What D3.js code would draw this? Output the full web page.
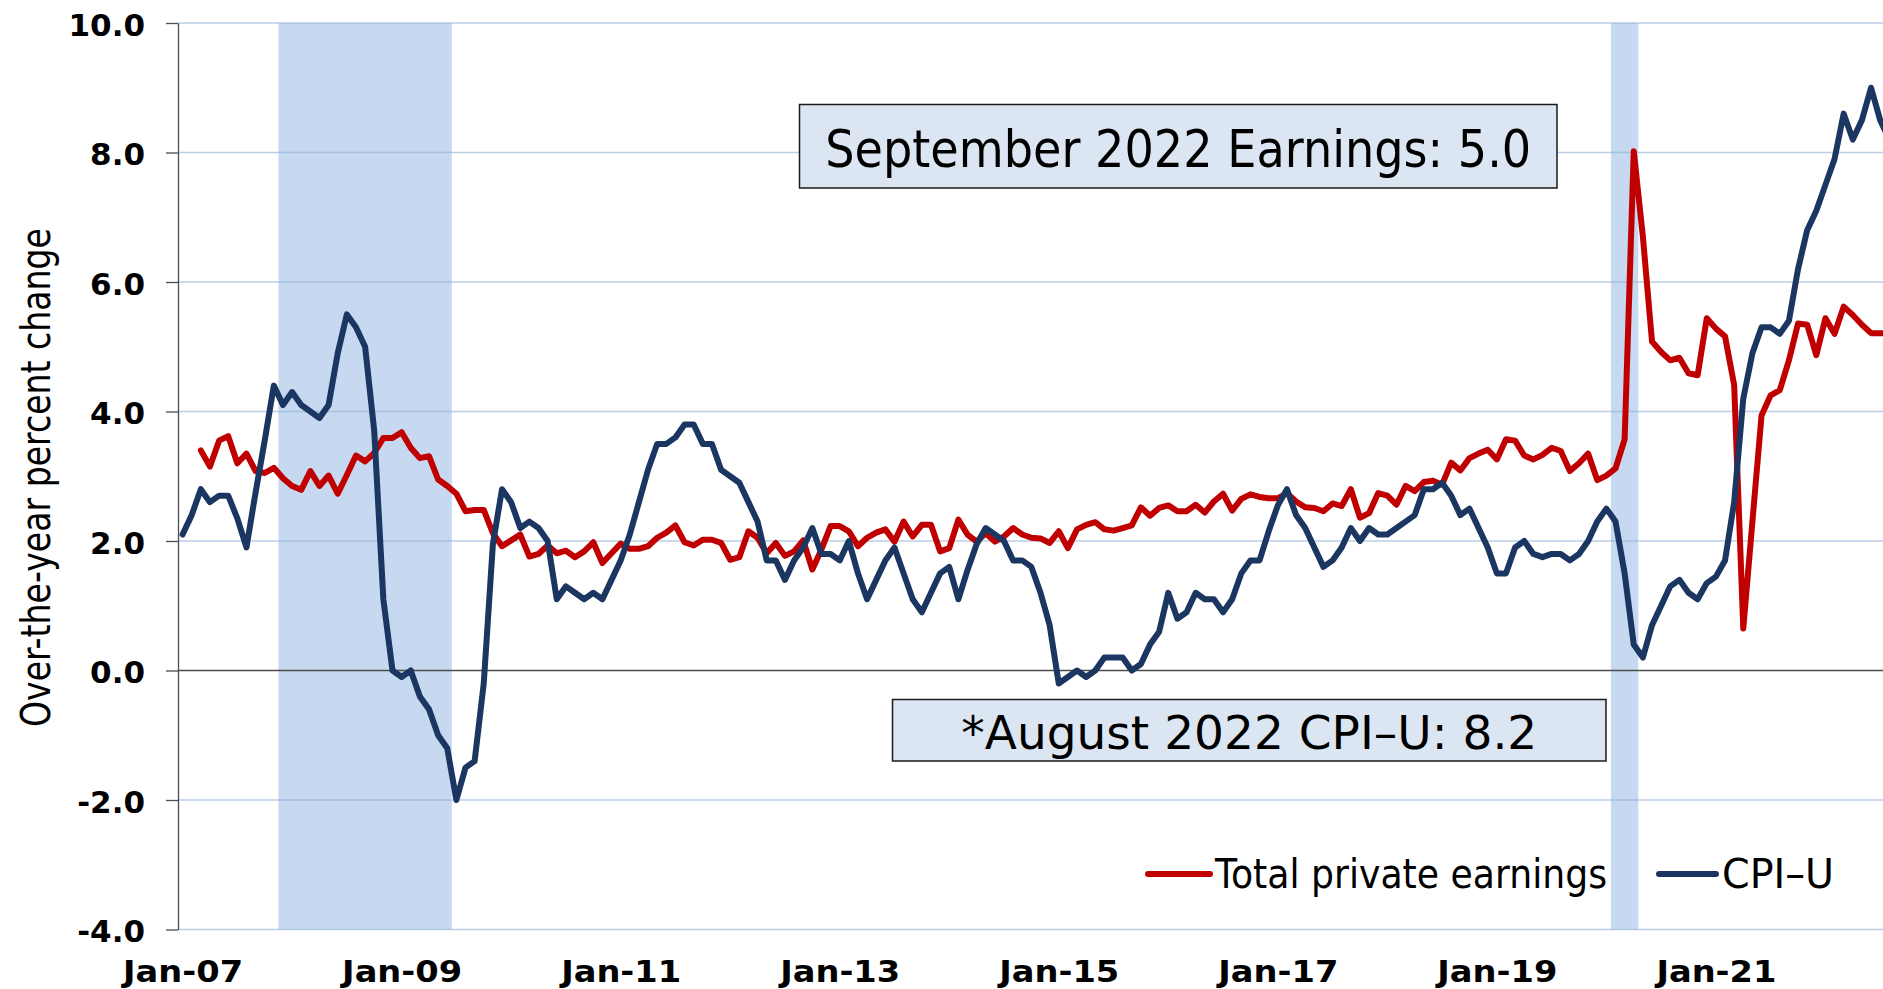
<!DOCTYPE html>
<html>
<head>
<meta charset="utf-8">
<script src="https://cdn.jsdelivr.net/npm/d3@7"></script>
<style>
  html, body { margin: 0; padding: 0; background: #ffffff; overflow: hidden; }
  svg { display: block; }
</style>
</head>
<body>
<svg id="chart" width="1883" height="989"></svg>
<script>
// ---------------- DATA ----------------
// Monthly series, first month = Jan 2007 (index 0)
const firstMonth = "2007-01";

// CPI-U, over-the-year percent change
const cpiValues = [
  2.1, 2.4, 2.8, 2.6, 2.7, 2.7, 2.35, 1.9, 2.75, 3.55, 4.4, 4.1,          // 2007
  4.3, 4.1, 4.0, 3.9, 4.1, 4.9, 5.5, 5.3, 5.0, 3.7, 1.1, 0.0,             // 2008
  -0.1, 0.0, -0.4, -0.6, -1.0, -1.2, -2.0, -1.5, -1.4, -0.2, 1.95, 2.8,   // 2009
  2.6, 2.2, 2.3, 2.2, 2.0, 1.1, 1.3, 1.2, 1.1, 1.2, 1.1, 1.4,             // 2010
  1.7, 2.1, 2.6, 3.1, 3.5, 3.5, 3.6, 3.8, 3.8, 3.5, 3.5, 3.1,             // 2011
  3.0, 2.9, 2.6, 2.3, 1.7, 1.7, 1.4, 1.7, 1.9, 2.2, 1.8, 1.8,             // 2012
  1.7, 2.0, 1.5, 1.1, 1.4, 1.7, 1.9, 1.5, 1.1, 0.9, 1.2, 1.5,             // 2013
  1.6, 1.1, 1.55, 1.95, 2.2, 2.1, 2.0, 1.7, 1.7, 1.6, 1.2, 0.7,           // 2014
  -0.2, -0.1, 0.0, -0.1, 0.0, 0.2, 0.2, 0.2, 0.0, 0.1, 0.4, 0.6,          // 2015
  1.2, 0.8, 0.9, 1.2, 1.1, 1.1, 0.9, 1.1, 1.5, 1.7, 1.7, 2.15,            // 2016
  2.55, 2.8, 2.4, 2.2, 1.9, 1.6, 1.7, 1.9, 2.2, 2.0, 2.2, 2.1,            // 2017
  2.1, 2.2, 2.3, 2.4, 2.8, 2.8, 2.9, 2.7, 2.4, 2.5, 2.2, 1.9,             // 2018
  1.5, 1.5, 1.9, 2.0, 1.8, 1.75, 1.8, 1.8, 1.7, 1.8, 2.0, 2.3,            // 2019
  2.5, 2.3, 1.5, 0.4, 0.2, 0.7, 1.0, 1.3, 1.4, 1.2, 1.1, 1.35,            // 2020
  1.45, 1.7, 2.6, 4.2, 4.9, 5.3, 5.3, 5.2, 5.4, 6.2, 6.8, 7.1,            // 2021
  7.5, 7.9, 8.6, 8.2, 8.5, 9.0, 8.5, 8.2                                  // 2022 (Jan-Aug)
];

// Total private average hourly earnings, over-the-year percent change
const earningsValues = [
  null, null, 3.4, 3.15, 3.55, 3.62, 3.2, 3.35, 3.08, 3.05, 3.13, 2.97,   // 2007
  2.85, 2.79, 3.08, 2.85, 3.01, 2.73, 3.02, 3.32, 3.23, 3.36, 3.59, 3.59, // 2008
  3.68, 3.44, 3.28, 3.31, 2.95, 2.85, 2.73, 2.46, 2.48, 2.48, 2.12, 1.92, // 2009
  2.01, 2.10, 1.76, 1.80, 1.93, 1.81, 1.85, 1.75, 1.84, 1.98, 1.66, 1.81, // 2010
  1.96, 1.88, 1.88, 1.92, 2.05, 2.13, 2.24, 1.98, 1.93, 2.02, 2.02, 1.97, // 2011
  1.71, 1.75, 2.15, 2.05, 1.81, 1.97, 1.77, 1.84, 2.01, 1.56, 1.87, 2.23, // 2012
  2.23, 2.15, 1.92, 2.05, 2.13, 2.18, 1.99, 2.30, 2.07, 2.25, 2.25, 1.84, // 2013
  1.89, 2.33, 2.10, 1.99, 2.12, 1.99, 2.07, 2.20, 2.10, 2.05, 2.04, 1.97, // 2014
  2.15, 1.89, 2.18, 2.25, 2.29, 2.18, 2.16, 2.20, 2.24, 2.52, 2.39, 2.51, // 2015
  2.55, 2.46, 2.46, 2.56, 2.44, 2.61, 2.73, 2.47, 2.65, 2.72, 2.68, 2.66, // 2016
  2.66, 2.74, 2.61, 2.52, 2.51, 2.46, 2.58, 2.54, 2.80, 2.36, 2.43, 2.74, // 2017
  2.70, 2.56, 2.85, 2.77, 2.91, 2.93, 2.87, 3.21, 3.09, 3.28, 3.35, 3.41, // 2018
  3.26, 3.57, 3.55, 3.32, 3.26, 3.33, 3.44, 3.39, 3.08, 3.20, 3.35, 2.94, // 2019
  3.01, 3.12, 3.57, 8.02, 6.70, 5.08, 4.92, 4.79, 4.83, 4.59, 4.56, 5.44, // 2020
  5.28, 5.16, 4.41, 0.65, 2.30, 3.94, 4.25, 4.33, 4.79, 5.36, 5.34, 4.87, // 2021
  5.44, 5.20, 5.62, 5.49, 5.34, 5.21, 5.21, 5.20, 5.00                    // 2022 (Jan-Sep)
];

// Recession periods (first and last month)
const recessions = [["2007-12", "2009-06"], ["2020-02", "2020-04"]];

// Axis ticks
const xTickMonths = ["2007-01", "2009-01", "2011-01", "2013-01", "2015-01", "2017-01", "2019-01", "2021-01"];
const xTickLabels = ["Jan-07", "Jan-09", "Jan-11", "Jan-13", "Jan-15", "Jan-17", "Jan-19", "Jan-21"];
const yTickValues = [-4, -2, 0, 2, 4, 6, 8, 10];
const yTickLabels = ["-4.0", "-2.0", "0.0", "2.0", "4.0", "6.0", "8.0", "10.0"];

// Texts
const yAxisTitle = "Over-the-year percent change";
const seriesNames = ["Total private earnings", "CPI\u2013U"];
const noteEarnings = "September 2022 Earnings: 5.0";
const noteCpi = "*August 2022 CPI\u2013U: 8.2";

// ---------------- DRAWING ----------------
const W = 1883, H = 989;
const FONT = "'DejaVu Sans', Verdana, sans-serif";
const RED = "#c00000", NAVY = "#1b3660";
const LINE_W = 6;

function monthIndex(s) {
  const [y0, m0] = firstMonth.split("-").map(Number);
  const [y, m] = s.split("-").map(Number);
  return (y - y0) * 12 + (m - m0);
}

const plotLeft = 178, plotTop = 23, plotBottom = 929.5;
const monthWidth = 9.127;
const nMonths = 189;

const x = d3.scaleLinear()
  .domain([-0.5, nMonths - 0.5])
  .range([plotLeft, plotLeft + nMonths * monthWidth]);
const y = d3.scaleLinear()
  .domain([-4, 10])
  .range([plotBottom, plotTop]);

const svg = d3.select("#chart");

// Recession shading
svg.append("g").selectAll("rect")
  .data(recessions)
  .join("rect")
  .attr("x", d => x(monthIndex(d[0]) - 0.5))
  .attr("width", d => x(monthIndex(d[1]) + 0.5) - x(monthIndex(d[0]) - 0.5))
  .attr("y", y(10))
  .attr("height", y(-4) - y(10))
  .attr("fill", "#c6d9f0");

// Gridlines
svg.append("g").selectAll("line")
  .data(yTickValues.filter(v => v !== 0))
  .join("line")
  .attr("x1", plotLeft).attr("x2", W)
  .attr("y1", d => y(d)).attr("y2", d => y(d))
  .attr("stroke", "#95b3d7")
  .attr("stroke-opacity", 0.65)
  .attr("stroke-width", 1.6);

// Zero line
svg.append("line")
  .attr("x1", plotLeft).attr("x2", W)
  .attr("y1", y(0)).attr("y2", y(0))
  .attr("stroke", "#4d4d4d")
  .attr("stroke-width", 1.5);

// Y axis
const yAxis = d3.axisLeft(y)
  .tickValues(yTickValues)
  .tickFormat((d, i) => yTickLabels[i])
  .tickSize(12)
  .tickSizeOuter(0)
  .tickPadding(21);
const gy = svg.append("g")
  .attr("transform", `translate(${plotLeft},0)`)
  .call(yAxis);
gy.select(".domain").attr("stroke", "#4d4d4d").attr("stroke-width", 1.3);
gy.selectAll(".tick line").attr("stroke", "#4d4d4d").attr("stroke-width", 1.3);
gy.selectAll(".tick text")
  .attr("font-family", FONT)
  .attr("font-size", 31)
  .attr("font-weight", "bold")
  .attr("fill", "#000")
  .attr("dy", "0.39em");

// X axis (labels only)
const xTickIdx = xTickMonths.map(monthIndex);
const xAxis = d3.axisBottom(x)
  .tickValues(xTickIdx)
  .tickFormat((d, i) => xTickLabels[i])
  .tickSize(0)
  .tickSizeOuter(0)
  .tickPadding(30.5);
const gx = svg.append("g")
  .attr("transform", `translate(0,${plotBottom})`)
  .call(xAxis);
gx.select(".domain").remove();
gx.selectAll(".tick text")
  .attr("font-family", FONT)
  .attr("font-size", 31)
  .attr("font-weight", "bold")
  .attr("fill", "#000")
  .attr("textLength", 120)
  .attr("lengthAdjust", "spacingAndGlyphs");

// Lines
const line = d3.line()
  .defined(d => d != null)
  .x((d, i) => x(i))
  .y(d => y(d));

svg.append("path")
  .datum(earningsValues)
  .attr("d", line)
  .attr("fill", "none")
  .attr("stroke", RED)
  .attr("stroke-width", LINE_W)
  .attr("stroke-linejoin", "round")
  .attr("stroke-linecap", "round");

svg.append("path")
  .datum(cpiValues)
  .attr("d", line)
  .attr("fill", "none")
  .attr("stroke", NAVY)
  .attr("stroke-width", LINE_W)
  .attr("stroke-linejoin", "round")
  .attr("stroke-linecap", "round");

// Y axis title
svg.append("text")
  .attr("transform", "translate(49.5,477.5) rotate(-90)")
  .attr("text-anchor", "middle")
  .attr("font-family", FONT)
  .attr("font-size", 40)
  .attr("fill", "#000")
  .attr("textLength", 499)
  .attr("lengthAdjust", "spacingAndGlyphs")
  .text(yAxisTitle);

// Annotation boxes
const notes = [
  { text: noteEarnings, x0: 799.5, y0: 104.5, x1: 1557, y1: 188, base: 166.7, size: 52, len: 706 },
  { text: noteCpi,      x0: 892.5, y0: 699.5, x1: 1606, y1: 761, base: 749.3, size: 47, len: 576 }
];
const ng = svg.append("g").selectAll("g").data(notes).join("g");
ng.append("rect")
  .attr("x", d => d.x0).attr("y", d => d.y0)
  .attr("width", d => d.x1 - d.x0).attr("height", d => d.y1 - d.y0)
  .attr("fill", "#dce6f2")
  .attr("stroke", "#1a1a1a")
  .attr("stroke-width", 1.5);
ng.append("text")
  .attr("x", d => (d.x0 + d.x1) / 2)
  .attr("y", d => d.base)
  .attr("text-anchor", "middle")
  .attr("font-family", FONT)
  .attr("font-size", d => d.size)
  .attr("fill", "#000")
  .attr("textLength", d => d.len)
  .attr("lengthAdjust", "spacingAndGlyphs")
  .text(d => d.text);

// Legend
const legendItems = [
  { name: seriesNames[0], color: RED,  lx0: 1148, lx1: 1210, tx: 1215, len: 392 },
  { name: seriesNames[1], color: NAVY, lx0: 1659, lx1: 1716, tx: 1722, len: 112 }
];
const lg = svg.append("g").selectAll("g").data(legendItems).join("g");
lg.append("line")
  .attr("x1", d => d.lx0).attr("x2", d => d.lx1)
  .attr("y1", 874).attr("y2", 874)
  .attr("stroke", d => d.color)
  .attr("stroke-width", LINE_W)
  .attr("stroke-linecap", "round");
lg.append("text")
  .attr("x", d => d.tx)
  .attr("y", 887.7)
  .attr("font-family", FONT)
  .attr("font-size", 41)
  .attr("fill", "#000")
  .attr("textLength", d => d.len)
  .attr("lengthAdjust", "spacingAndGlyphs")
  .text(d => d.name);
</script>
</body>
</html>
